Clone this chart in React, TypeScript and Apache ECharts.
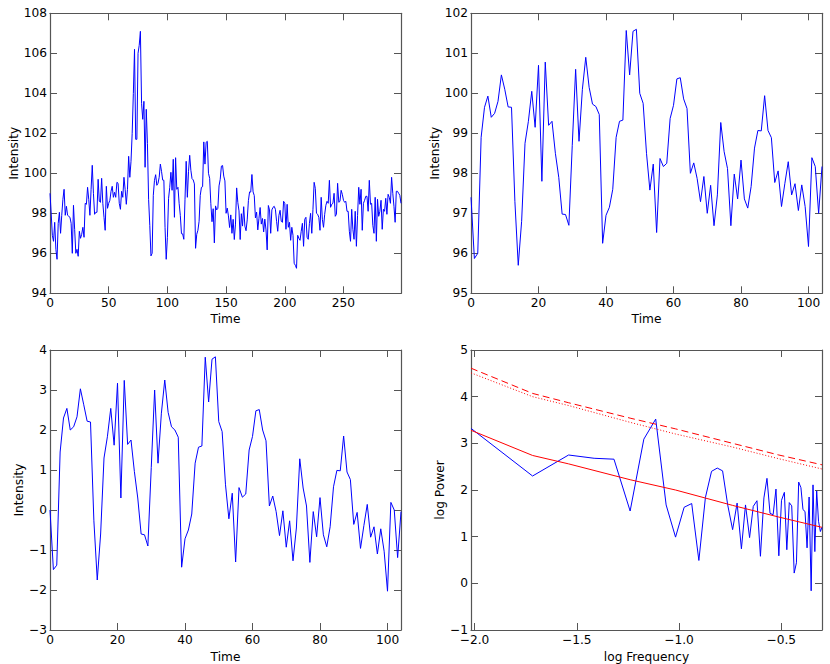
import * as echarts from "echarts";
import { useEffect, useRef } from "react";

// raw intensity, split around the 105 sample window that gets analysed
const earlyIntensity = [
  99.0, 98.0, 96.9, 96.6, 97.55, 96.2, 95.7, 97.5, 98.05, 97.0,
  97.9, 98.7, 99.2, 97.9, 98.35, 97.9, 97.85, 97.8, 97.5, 96.0,
  98.4, 97.2, 96.0, 96.2, 95.85, 97.1, 96.75, 96.95, 97.3, 96.8,
  98.5, 98.45, 99.3, 98.7, 97.9, 99.2, 100.4, 99.0, 97.95, 98.05,
  98.05, 99.7, 98.6, 98.55, 99.75, 98.5, 97.8, 97.15, 99.35, 98.25,
  98.5, 98.65, 99.1, 99.35, 98.8, 99.05, 98.8, 99.55, 99.5, 98.5,
  98.2, 99.1, 98.8, 99.8, 99.2, 98.45, 99.2, 100.85, 99.8, 100.6,
  102, 104, 106.2, 101.7, 101.7, 106, 106.4, 107.1, 103.5, 102.7,
  103.6, 100.3, 103.2, 101.5, 98.7,
];

const windowIntensity = [
  97.4, 95.87, 96.0, 98.9, 99.65, 99.93, 99.4, 99.5, 99.8, 100.46,
  100.1, 99.66, 99.65, 97.3, 95.7, 96.8, 98.75, 99.3, 100.05, 99.15,
  100.7, 97.8, 100.78, 99.2, 99.3, 98.5, 97.9, 96.98, 96.97, 96.7,
  98.7, 100.6, 98.8, 100.1, 100.9, 100.15, 99.73, 99.67, 99.47, 96.25,
  96.95, 97.15, 97.6, 98.9, 99.3, 99.33, 101.57, 100.46, 101.55, 101.6,
  100.0, 99.75, 98.5, 97.58, 98.23, 96.52, 98.37, 98.17, 98.25, 99.37,
  99.7, 100.36, 100.39, 99.86, 99.62, 98.0, 98.26, 97.87, 97.29, 97.92,
  97.0, 97.7, 96.69, 97.46, 99.27, 98.54, 98.12, 96.69, 97.98, 97.36,
  98.33, 97.36, 97.13, 97.67, 98.63, 99.07, 99.06, 99.94, 99.07, 98.89,
  97.77, 98.06, 97.17, 97.75, 98.29, 97.46, 97.74, 97.07, 97.71, 97.17,
  96.17, 98.39, 98.17, 97.0, 98.17,
];

const lateIntensity = [
  98.3, 98.35, 98.2, 97.6, 97.1, 97.9, 98.15, 97.6, 97.55, 98.6,
  98.5, 97.2, 98.45, 97.3, 97.55, 96.65, 97.3, 96.9, 95.5, 95.4,
  95.25, 96.9, 96.75, 96.65, 97.1, 97.5, 96.35, 97.7, 97.8, 96.8,
  96.7, 97.5, 98.0, 97.0, 98.2, 99.55, 99.25, 98.0, 97.95, 97.8,
  97.15, 98.8, 97.7, 97.3, 97.95, 98.4, 98.6, 98.5, 99.65, 98.3,
  98.45, 98.5, 99.0, 97.85, 97.95, 99.5, 98.55, 98.6, 99.15, 98.95,
  98.65, 98.55, 98.6, 98.1, 98.1, 97.1, 96.6, 98.2, 97.2, 96.7,
  98.1, 96.35, 97.9, 99.3, 98.45, 99.2, 97.15, 98.5, 98.65, 98.85,
  98.85, 98.1, 99.65, 98.45, 98.5, 97.4, 97.0, 98.8, 96.6, 98.7,
  97.85, 98.1, 98.65, 97.2, 98.2, 98.1, 98.75, 97.95, 98.95, 98.8,
  98.5, 99.8, 99.0, 98.35, 97.55, 99.1, 99.1, 99.0, 98.9, 98.5,
];

const detrended = [
  0, -1.49, -1.38, 1.45, 2.3, 2.54, 2.0, 2.08, 2.33, 3.03,
  2.63, 2.22, 2.2, -0.27, -1.75, -0.6, 1.3, 1.83, 2.54, 1.62,
  3.17, 0.3, 3.24, 1.64, 1.75, 0.96, 0.3, -0.6, -0.62, -0.9,
  1.06, 3.0, 1.17, 2.42, 3.25, 2.44, 2.08, 2.0, 1.82, -1.43,
  -0.72, -0.5, -0.1, 1.17, 1.57, 1.6, 3.82, 2.7, 3.77, 3.83,
  2.21, 1.96, 0.63, -0.22, 0.42, -1.3, 0.56, 0.32, 0.4, 1.5,
  1.84, 2.48, 2.51, 2.0, 1.73, 0.1, 0.35, -0.04, -0.64, -0.02,
  -0.93, -0.27, -1.27, -0.45, 1.28, 0.55, 0.1, -1.31, -0.04, -0.67,
  0.31, -0.62, -0.92, -0.42, 0.58, 0.99, 0.98, 1.85, 0.95, 0.76,
  -0.36, -0.06, -0.96, -0.39, 0.14, -0.68, -0.42, -1.1, -0.47, -1.03,
  -2.03, 0.19, 0, -1.19, -0.04,
];

const logFreq = [
  -2.017, -1.716, -1.54, -1.415, -1.318, -1.239, -1.172, -1.114, -1.063, -1.017,
  -0.975, -0.938, -0.903, -0.871, -0.841, -0.813, -0.787, -0.762, -0.738, -0.716,
  -0.695, -0.675, -0.655, -0.637, -0.619, -0.602, -0.585, -0.57, -0.555, -0.54,
  -0.526, -0.512, -0.499, -0.485, -0.473, -0.461, -0.449, -0.437, -0.426, -0.415,
  -0.404, -0.394, -0.384, -0.374, -0.364, -0.354, -0.345, -0.336, -0.327, -0.318,
  -0.309, -0.301,
];

const logPower = [
  3.32, 2.3, 2.75, 2.68, 2.66, 1.55, 3.09, 3.52, 1.68, 0.99,
  1.63, 1.71, 0.49, 1.84, 2.4, 2.47, 2.41, 1.68, 1.15, 1.72,
  0.74, 1.68, 0.98, 1.65, 1.77, 0.58, 1.83, 2.25, 1.5, 1.47,
  2.02, 0.59, 1.78, 1.95, 0.72, 1.73, 1.66, 0.22, 0.44, 2.17,
  2.05, 1.58, 1.54, 0.76, 1.85, -0.16, 2.11, 0.68, 1.98, 1.33,
  1.11, 1.2,
];

// the red curves are read at a few frequencies only, they are nearly straight
const refFreq = [-2.017, -1.716, -1.54, -1.239, -1.017, -0.738, -0.512, -0.301];
const refPower = [3.28, 2.74, 2.56, 2.22, 2.0, 1.67, 1.42, 1.2];
const refUpper = [4.61, 4.07, 3.87, 3.54, 3.31, 3.0, 2.75, 2.54];
const refLower = [4.51, 4.0, 3.81, 3.45, 3.2, 2.92, 2.67, 2.45];

const longTimeTicks = [0, 50, 100, 150, 200, 250];
const shortTimeTicks = [0, 20, 40, 60, 80, 100];
const logFreqTicks = [-2, -1.5, -1, -0.5];

const FONT = "DejaVu Sans";
const FONT_SIZE = 12.2;
const FRAME = "#555555";

const minus = (s: string) => s.replace("-", "\u2212");

const panels = [
  {
    left: 50, top: 13.3, xName: "Time", xGap: 20, yName: "Intensity", yGap: 28,
    xMin: 0, xMax: 299, xTicks: longTimeTicks, xDigits: 0, yMin: 94, yMax: 108, yStep: 2,
  },
  {
    left: 471, top: 13.3, xName: "Time", xGap: 20, yName: "Intensity", yGap: 28,
    xMin: 0, xMax: 104, xTicks: shortTimeTicks, xDigits: 0, yMin: 95, yMax: 102, yStep: 1,
  },
  {
    left: 50, top: 350, xName: "Time", xGap: 21, yName: "Intensity", yGap: 23,
    xMin: 0, xMax: 104, xTicks: shortTimeTicks, xDigits: 0, yMin: -3, yMax: 4, yStep: 1,
  },
  {
    left: 471, top: 350, xName: "log Frequency", xGap: 21, yName: "log Power", yGap: 23,
    xMin: -2.017, xMax: -0.301, xTicks: logFreqTicks, xDigits: 1, yMin: -1, yMax: 5, yStep: 1,
  },
];

const zip = (xs: number[], ys: number[]) => ys.map((y, i) => [xs[i], y]);
const indexed = (ys: number[]) => ys.map((y, i) => [i, y]);

const lineSeries = (
  panel: number,
  data: number[][],
  color: string,
  type: "solid" | "dashed" | "dotted" | number[] = "solid"
) => ({
  type: "line",
  xAxisIndex: panel * 2,
  yAxisIndex: panel * 2,
  data,
  showSymbol: false,
  symbol: "none",
  lineStyle: { color, width: 1, type },
  silent: true,
});

export default function App() {
  const chartRef = useRef<HTMLDivElement>(null);

  useEffect(() => {
    document.body.style.margin = "0";
    const chart = echarts.init(chartRef.current, null, { renderer: "svg" });

    const xAxis: any[] = [];
    const yAxis: any[] = [];
    panels.forEach((p, i) => {
      const tick = { inside: true, length: 7, lineStyle: { color: FRAME, width: 1 } };
      const line = { show: true, onZero: false, lineStyle: { color: FRAME, width: 1.2 } };
      const xBase = {
        type: "value", gridIndex: i, min: p.xMin, max: p.xMax,
        splitLine: { show: false }, axisLine: line,
        axisTick: { ...tick, customValues: p.xTicks },
      };
      xAxis.push({
        ...xBase,
        position: "bottom",
        name: p.xName,
        nameLocation: "middle",
        nameGap: p.xGap,
        nameTextStyle: { fontFamily: FONT, fontSize: FONT_SIZE, color: "#000" },
        axisLabel: {
          customValues: p.xTicks,
          margin: 4,
          fontFamily: FONT,
          fontSize: FONT_SIZE,
          color: "#000",
          showMinLabel: true,
          showMaxLabel: true,
          formatter: (v: number) => minus(v.toFixed(p.xDigits)),
        },
      });
      xAxis.push({ ...xBase, position: "top", axisLabel: { show: false } });

      const yBase = {
        type: "value", gridIndex: i, min: p.yMin, max: p.yMax, interval: p.yStep,
        splitLine: { show: false }, axisLine: line, axisTick: tick,
      };
      yAxis.push({
        ...yBase,
        position: "left",
        name: p.yName,
        nameLocation: "middle",
        nameGap: p.yGap,
        nameRotate: 90,
        nameTextStyle: { fontFamily: FONT, fontSize: FONT_SIZE, color: "#000" },
        axisLabel: {
          margin: 3,
          fontFamily: FONT,
          fontSize: FONT_SIZE,
          color: "#000",
          showMinLabel: true,
          showMaxLabel: true,
          formatter: (v: number) => minus(String(v)),
        },
      });
      yAxis.push({ ...yBase, position: "right", axisLabel: { show: false } });
    });

    chart.setOption({
      animation: false,
      backgroundColor: "#fff",
      grid: panels.map((p) => ({
        left: p.left,
        top: p.top,
        width: 351,
        height: 280,
        containLabel: false,
      })),
      xAxis,
      yAxis,
      series: [
        lineSeries(0, indexed([...earlyIntensity, ...windowIntensity, ...lateIntensity]), "#0000ff"),
        lineSeries(1, indexed(windowIntensity), "#0000ff"),
        lineSeries(2, indexed(detrended), "#0000ff"),
        lineSeries(3, zip(logFreq, logPower), "#0000ff"),
        lineSeries(3, zip(refFreq, refPower), "#ff0000"),
        lineSeries(3, zip(refFreq, refUpper), "#ff0000", [7, 4]),
        lineSeries(3, zip(refFreq, refLower), "#ff0000", [1, 2]),
      ],
    });

    return () => chart.dispose();
  }, []);

  return <div ref={chartRef} style={{ width: 830, height: 664 }} />;
}
